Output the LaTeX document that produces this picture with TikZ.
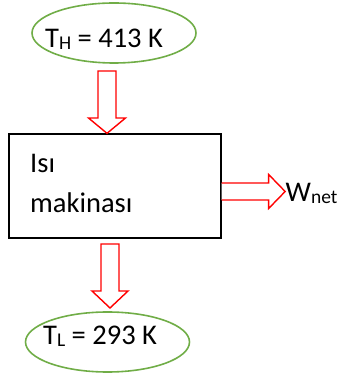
\documentclass[tikz,border=0pt]{standalone}
\usepackage{fontspec}
\setmainfont{Carlito}
\usetikzlibrary{shapes.geometric,calc}

\definecolor{resgreen}{RGB}{112,173,71}

\tikzset{
	reservoir/.style={ellipse, draw=resgreen, line width=1.6pt, minimum width=164pt, minimum height=60pt, inner sep=0pt},
	engine/.style={draw, line width=1.3pt, minimum width=212pt, minimum height=104pt, inner sep=0pt},
	heatflow/.style={draw=red, line width=1.4pt, fill=white, line join=miter},
	label/.style={anchor=base west, inner sep=0pt, font=\fontsize{28.5}{34}\selectfont}
}
\newcommand{\subtxt}[1]{\raisebox{-2pt}{\fontsize{19.5}{20}\selectfont #1}}

\begin{document}
\begin{tikzpicture}[x=1pt, y=1pt]
	\useasboundingbox (0,0) rectangle (338,374);
	
	% Reservoirs and the engine
	\node[reservoir] (hot) at (114,341) {};
	\node[reservoir] (cold) at (107.5,32) {};
	\node[engine] (engine) at (115,188) {};
	
	% Texts
	\node[label] (thot) at (45,326) {T\subtxt{H} = 413 K};
	\node[label] (tcold) at (43,29) {T\subtxt{L} = 293 K};
	\node[label] (isi) at (30,201) {Isı};
	\node[label] (mak) at (30,161) {makinası};
	\node[label] (wnet) at (285.5,172) {W\subtxt{net}};
	
	% Heat in, from the hot reservoir
	\coordinate (qh) at (107,303);
	\draw[heatflow] ($(qh)+(-9,0)$) -- ($(qh)+(-9,-47)$) -- ($(qh)+(-18.5,-47)$)
		-- (qh |- engine.north) -- ($(qh)+(18.5,-47)$) -- ($(qh)+(9,-47)$) -- ($(qh)+(9,0)$) -- cycle;
	
	% Heat out, to the cold reservoir
	\coordinate (ql) at (110,130);
	\draw[heatflow] ($(ql)+(-9,0)$) -- ($(ql)+(-9,-47)$) -- ($(ql)+(-18,-47)$)
		-- ($(ql)+(0,-64)$) -- ($(ql)+(18,-47)$) -- ($(ql)+(9,-47)$) -- ($(ql)+(9,0)$) -- cycle;
	
	% Net work out
	\coordinate (wo) at (engine.east |- 0,182.5);
	\draw[heatflow] ($(wo)+(0,8.5)$) -- ($(wo)+(47,8.5)$) -- ($(wo)+(47,17)$)
		-- ($(wo)+(63.5,0)$) -- ($(wo)+(47,-17)$) -- ($(wo)+(47,-8.5)$) -- ($(wo)+(0,-8.5)$);
	
\end{tikzpicture}
\end{document}
